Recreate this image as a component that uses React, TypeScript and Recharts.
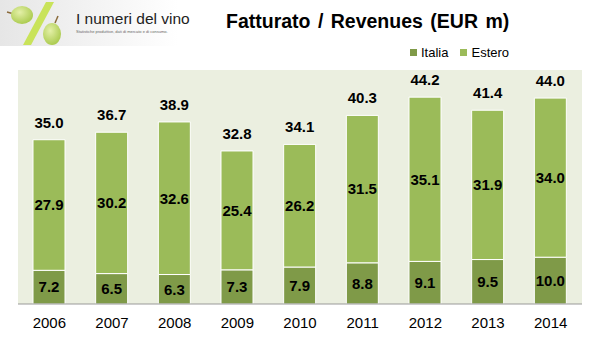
import React from 'react';
import { BarChart, Bar, XAxis, YAxis, CartesianGrid, LabelList } from 'recharts';

const YEARS = ['2006', '2007', '2008', '2009', '2010', '2011', '2012', '2013', '2014'];
const ITALIA = [7.2, 6.5, 6.3, 7.3, 7.9, 8.8, 9.1, 9.5, 10.0];
const ESTERO = [27.9, 30.2, 32.6, 25.4, 26.2, 31.5, 35.1, 31.9, 34.0];
const TOTALS = [35.0, 36.7, 38.9, 32.8, 34.1, 40.3, 44.2, 41.4, 44.0];

const data = YEARS.map((year, i) => ({
  year,
  italia: ITALIA[i],
  estero: ESTERO[i],
  total: TOTALS[i],
}));

const DARK = '#7F9A48';
const LIGHT = '#9BBB59';
const FONT = 'Arial, "Liberation Sans", sans-serif';

const fmt = (v: any) => Number(v).toFixed(1);

const Logo = () => (
  <svg width={220} height={48} style={{ position: 'absolute', left: 0, top: 0 }}>
    <defs>
      <linearGradient id="logoBg" x1="0" y1="0" x2="1" y2="0">
        <stop offset="0%" stopColor="#e6e6e6" />
        <stop offset="100%" stopColor="#ffffff" />
      </linearGradient>
      <radialGradient id="grape" cx="0.4" cy="0.35" r="0.7">
        <stop offset="0%" stopColor="#e4f0a8" />
        <stop offset="100%" stopColor="#a8c94a" />
      </radialGradient>
    </defs>
    <rect x={0} y={0} width={178} height={46} fill="url(#logoBg)" />
    <polygon points="46,2 54,2 31,45 23,45" fill="#c9e35a" />
    <line x1={7} y1={12} x2={14} y2={14} stroke="#8a6a3a" strokeWidth={1.5} />
    <ellipse cx={22} cy={15} rx={11} ry={9} fill="url(#grape)" />
    <line x1={58} y1={16} x2={55} y2={23} stroke="#8a6a3a" strokeWidth={1.5} />
    <ellipse cx={52} cy={34} rx={9} ry={11} fill="url(#grape)" />
    <text x={76} y={24} fontFamily={FONT} fontSize={15.5} fill="#222">I numeri del vino</text>
    <text x={76} y={33} fontFamily={FONT} fontSize={4} fill="#666">Statistiche produttive, dati di mercato e di consumo.</text>
  </svg>
);

export default function App() {
  return (
    <div style={{ position: 'absolute', left: 0, top: 0, width: 602, height: 358, background: '#fff', fontFamily: FONT }}>
      <BarChart width={602} height={358} data={data} margin={{ top: 70, right: 20, left: 18, bottom: 24 }} barSize={32}>
        <CartesianGrid fill="#EBEFE0" stroke="none" horizontal={false} vertical={false} />
        <XAxis
          dataKey="year"
          axisLine={{ stroke: '#999' }}
          tickLine={false}
          height={30}
          tickMargin={7}
          tick={{ fontSize: 15, fill: '#000', fontFamily: FONT }}
        />
        <YAxis hide domain={[0, 50]} />
        <Bar dataKey="italia" stackId="a" fill={DARK} stroke="#fff" strokeWidth={1} isAnimationActive={false}>
          <LabelList dataKey="italia" position="center" formatter={fmt} style={{ fontSize: 15, fontWeight: 'bold', fill: '#000', fontFamily: FONT }} />
        </Bar>
        <Bar dataKey="estero" stackId="a" fill={LIGHT} stroke="#fff" strokeWidth={1} isAnimationActive={false}>
          <LabelList dataKey="estero" position="center" formatter={fmt} style={{ fontSize: 15, fontWeight: 'bold', fill: '#000', fontFamily: FONT }} />
          <LabelList dataKey="total" position="top" offset={12} formatter={fmt} style={{ fontSize: 15, fontWeight: 'bold', fill: '#000', fontFamily: FONT }} />
        </Bar>
      </BarChart>
      <Logo />
      <div style={{ position: 'absolute', left: 226, top: 10, fontSize: 19.5, fontWeight: 'bold', color: '#000', whiteSpace: 'nowrap', wordSpacing: 2 }}>
        Fatturato / Revenues (EUR m)
      </div>
      <div style={{ position: 'absolute', left: 410, top: 45, fontSize: 13, color: '#000', display: 'flex', alignItems: 'center', whiteSpace: 'nowrap' }}>
        <span style={{ width: 7, height: 7, background: DARK, display: 'inline-block', marginRight: 4 }} />
        <span>Italia</span>
        <span style={{ width: 7, height: 7, background: LIGHT, display: 'inline-block', marginLeft: 12, marginRight: 4 }} />
        <span>Estero</span>
      </div>
    </div>
  );
}
